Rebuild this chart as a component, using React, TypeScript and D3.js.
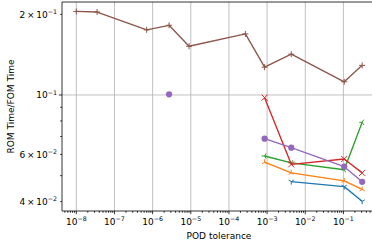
import React, { useEffect } from 'react';
import * as d3 from 'd3';

// POD tolerance values (shared x grid for all series)
const tolerance = [1e-8, 3.5e-8, 7e-7, 2.7e-6, 9e-6, 2.7e-4, 8.6e-4, 4.3e-3, 0.105, 0.31];

// ROM time / FOM time for each run, null where missing
const blueSeries = [null, null, null, null, null, null, null, 0.0475, 0.0455, 0.0401];
const orangeSeries = [null, null, null, null, null, null, 0.0561, 0.0512, 0.0478, 0.0444];
const greenSeries = [null, null, null, null, null, null, 0.0592, 0.0558, 0.0526, 0.0791];
const redSeries = [null, null, null, null, null, null, 0.0977, 0.0551, 0.0577, 0.0512];
const purpleSeries = [null, null, null, 0.1006, null, null, 0.0687, 0.0636, 0.054, 0.0474];
const brownSeries = [0.205, 0.204, 0.175, 0.182, 0.152, 0.169, 0.127, 0.142, 0.112, 0.129];

const xTickExps = [-8, -7, -6, -5, -4, -3, -2, -1];
const yMajorTicks = [0.1];
const yLabeledMinor = [
  { v: 0.2, m: '2', e: '1' },
  { v: 0.06, m: '6', e: '2' },
  { v: 0.04, m: '4', e: '2' },
];
const yMinorTicks = [0.04, 0.05, 0.06, 0.07, 0.08, 0.09, 0.2];

const W = 372;
const H = 245;
const left = 62;
const right = 376;
const top = 2;
const bottom = 211;
const font = 'DejaVu Sans, sans-serif';

const x = d3.scaleLog().domain([Math.pow(10, -8.375), Math.pow(10, -0.146)]).range([left, right]);
const y = d3.scaleLog().domain([Math.pow(10, -1.433), Math.pow(10, -0.653)]).range([bottom, top]);

type Marker = 'tri_down' | 'tri_up' | 'tri_left' | 'x' | 'o' | 'plus';

const series: { values: (number | null)[]; color: string; marker: Marker }[] = [
  { values: blueSeries, color: '#1f77b4', marker: 'tri_down' },
  { values: orangeSeries, color: '#ff7f0e', marker: 'tri_up' },
  { values: greenSeries, color: '#2ca02c', marker: 'tri_left' },
  { values: redSeries, color: '#d62728', marker: 'x' },
  { values: purpleSeries, color: '#9467bd', marker: 'o' },
  { values: brownSeries, color: '#8c564b', marker: 'plus' },
];

const markerPath = (m: Marker, s: number) => {
  const c = 0.866 * s, h = 0.5 * s;
  switch (m) {
    case 'plus':
      return `M${-s},0H${s}M0,${-s}V${s}`;
    case 'x':
      return `M${-s},${-s}L${s},${s}M${-s},${s}L${s},${-s}`;
    case 'tri_down':
      return `M0,0V${s}M0,0L${-c},${-h}M0,0L${c},${-h}`;
    case 'tri_up':
      return `M0,0V${-s}M0,0L${-c},${h}M0,0L${c},${h}`;
    case 'tri_left':
      return `M0,0H${-s}M0,0L${h},${-c}M0,0L${h},${c}`;
    default:
      return '';
  }
};

const App = () => {
  useEffect(() => {
    document.body.style.margin = '0';
  }, []);

  const line = d3
    .line<[number, number | null]>()
    .defined(d => d[1] != null)
    .x(d => x(d[0]))
    .y(d => y(d[1] as number));

  // minor x ticks
  const xMinor: number[] = [];
  for (let k = -9; k <= 0; k++) {
    for (let j = 2; j <= 9; j++) {
      const v = j * Math.pow(10, k);
      const px = x(v);
      if (px >= left && px <= W) xMinor.push(v);
    }
  }

  return (
    <svg width={W} height={H} style={{ display: 'block', background: '#fff' }} fontFamily={font}>
      <defs>
        <clipPath id="plotArea">
          <rect x={left} y={top} width={right - left} height={bottom - top} />
        </clipPath>
      </defs>

      {/* grid */}
      <g stroke="#b0b0b0" strokeWidth={0.8}>
        {xTickExps.map(e => (
          <line key={e} x1={x(Math.pow(10, e))} x2={x(Math.pow(10, e))} y1={top} y2={bottom} />
        ))}
        {yMajorTicks.map(v => (
          <line key={v} x1={left} x2={right} y1={y(v)} y2={y(v)} />
        ))}
      </g>

      {/* data */}
      <g clipPath="url(#plotArea)">
        {series.map((s, i) => {
          const pts = tolerance.map((t, j) => [t, s.values[j]] as [number, number | null]);
          return (
            <g key={i}>
              <path d={line(pts) || ''} fill="none" stroke={s.color} strokeWidth={1.35} strokeLinejoin="round" />
              {pts
                .filter(p => p[1] != null)
                .map((p, j) =>
                  s.marker === 'o' ? (
                    <circle key={j} cx={x(p[0])} cy={y(p[1] as number)} r={3.1} fill={s.color} />
                  ) : (
                    <path
                      key={j}
                      transform={`translate(${x(p[0])},${y(p[1] as number)})`}
                      d={markerPath(s.marker, 3)}
                      stroke={s.color}
                      strokeWidth={1}
                      fill="none"
                    />
                  )
                )}
            </g>
          );
        })}
      </g>

      {/* spines */}
      <g stroke="#000" strokeWidth={0.8}>
        <line x1={left} x2={left} y1={top} y2={bottom} />
        <line x1={left} x2={W} y1={bottom} y2={bottom} />
        <line x1={left} x2={W} y1={top} y2={top} />
      </g>

      {/* x ticks */}
      <g stroke="#000" strokeWidth={0.8}>
        {xTickExps.map(e => (
          <line key={e} x1={x(Math.pow(10, e))} x2={x(Math.pow(10, e))} y1={bottom} y2={bottom + 3.2} />
        ))}
        {xMinor.map(v => (
          <line key={v} x1={x(v)} x2={x(v)} y1={bottom} y2={bottom + 1.8} />
        ))}
      </g>
      <g fontSize={9} textAnchor="middle" fill="#000">
        {xTickExps.map(e => (
          <text key={e} x={x(Math.pow(10, e))} y={225}>
            10
            <tspan fontSize={6.3} dy={-3.6}>
              {'\u2212' + Math.abs(e)}
            </tspan>
          </text>
        ))}
      </g>

      {/* y ticks */}
      <g stroke="#000" strokeWidth={0.8}>
        {yMajorTicks.map(v => (
          <line key={v} x1={left - 3.2} x2={left} y1={y(v)} y2={y(v)} />
        ))}
        {yMinorTicks.map(v => (
          <line key={v} x1={left - 1.8} x2={left} y1={y(v)} y2={y(v)} />
        ))}
      </g>
      <g fontSize={9} textAnchor="end" fill="#000">
        {yMajorTicks.map(v => (
          <text key={v} x={57} y={y(v) + 3.2}>
            10
            <tspan fontSize={6.3} dy={-3.6}>
              {'\u22121'}
            </tspan>
          </text>
        ))}
        {yLabeledMinor.map(t => (
          <text key={t.v} x={57} y={y(t.v) + 3.2}>
            {t.m + '\u2009\u00d7\u200910'}
            <tspan fontSize={6.3} dy={-3.6}>
              {'\u2212' + t.e}
            </tspan>
          </text>
        ))}
      </g>

      {/* axis labels */}
      <text x={(left + right) / 2} y={239} fontSize={9} textAnchor="middle">
        POD tolerance
      </text>
      <text
        transform={`translate(13.5,${(top + bottom) / 2}) rotate(-90)`}
        fontSize={9}
        textAnchor="middle"
      >
        ROM Time/FOM Time
      </text>
    </svg>
  );
};

export default App;
